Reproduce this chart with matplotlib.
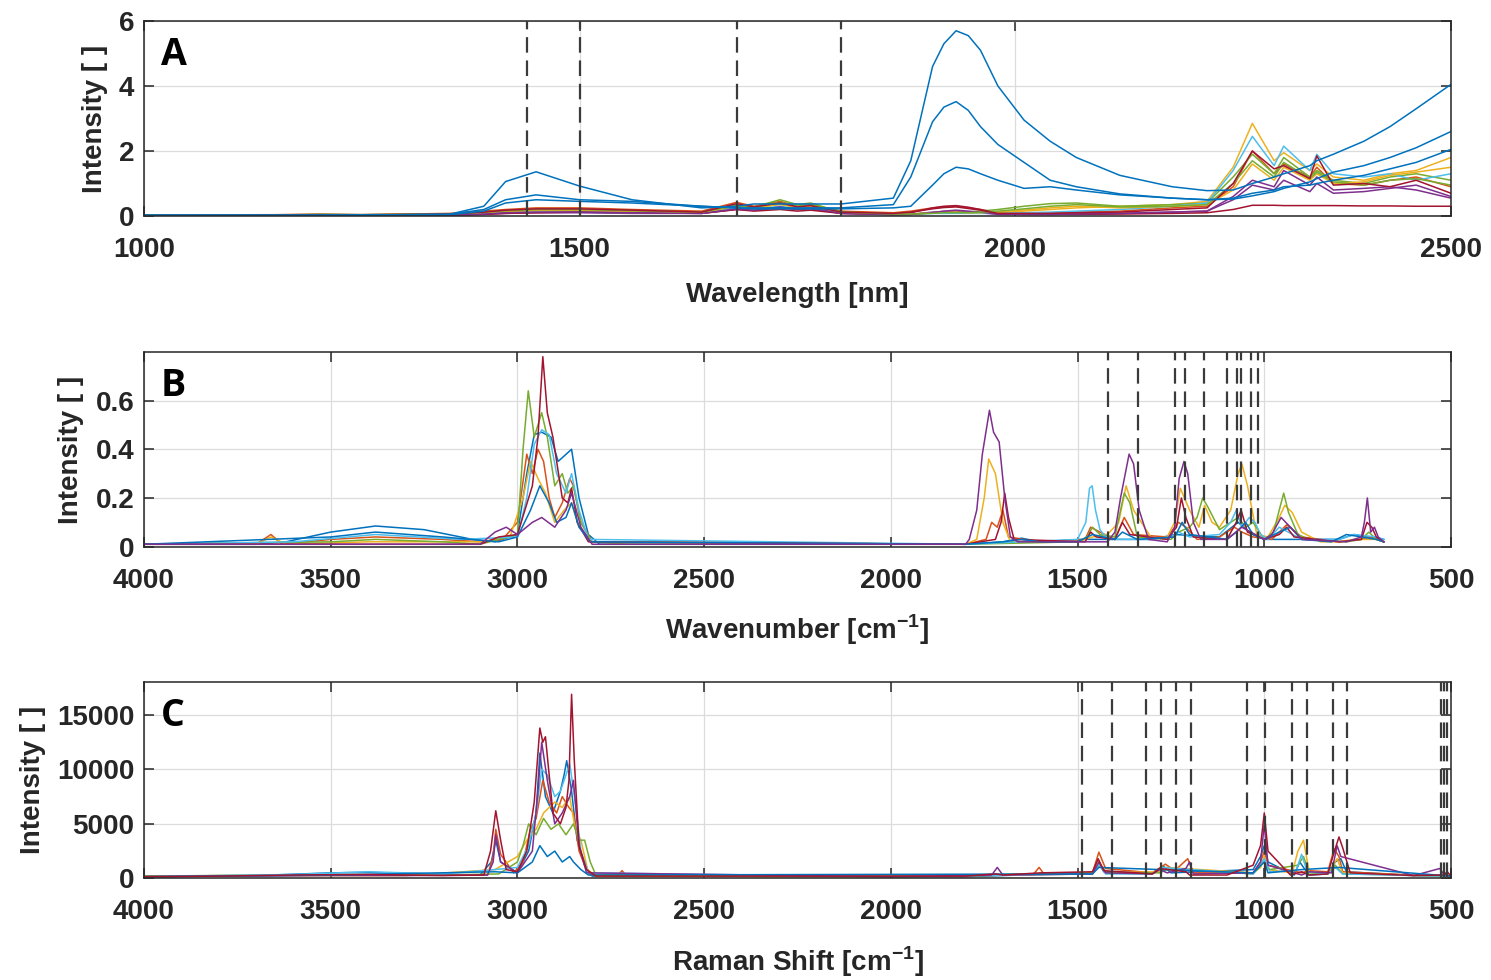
import matplotlib
matplotlib.use("Agg")
from matplotlib import pyplot as plt

plt.rcParams['font.family'] = ['Liberation Sans', 'DejaVu Sans']
plt.rcParams['font.weight'] = 'bold'
plt.rcParams['axes.labelweight'] = 'bold'
plt.rcParams['mathtext.fontset'] = 'custom'
plt.rcParams['mathtext.rm'] = 'Liberation Sans:bold'
plt.rcParams['mathtext.bf'] = 'Liberation Sans:bold'

# MATLAB default line colours
BLUE, ORANGE, YELLOW, PURPLE = '#0072BD', '#D95319', '#EDB120', '#7E2F8E'
GREEN, CYAN, RED = '#77AC30', '#4DBEEE', '#A2142F'

# ---------------- A: NIR (wavelength, nm) ----------------
A_WL = [1000, 1150, 1200, 1250, 1350, 1390, 1415, 1450, 1500, 1560, 1640, 1680, 1700, 1730,
        1750, 1765, 1800, 1860, 1880, 1905, 1918, 1932, 1946, 1960, 1980, 2010, 2040, 2070,
        2120, 2180, 2220, 2250, 2272, 2297, 2308, 2338, 2346, 2365, 2400, 2430, 2460, 2500]
A_BLUE1 = [0.02, 0.02, 0.03, 0.03, 0.05, 0.30, 1.06, 1.36, 0.92, 0.50, 0.25, 0.30, 0.37, 0.37,
           0.37, 0.37, 0.37, 0.55, 1.70, 4.60, 5.30, 5.70, 5.55, 5.10, 4.00, 2.95, 2.30, 1.80,
           1.25, 0.90, 0.78, 0.80, 1.00, 1.20, 1.30, 1.55, 1.70, 1.90, 2.30, 2.75, 3.30, 4.05]
A_BLUE2 = [0.02, 0.02, 0.02, 0.03, 0.05, 0.20, 0.50, 0.65, 0.50, 0.45, 0.30, 0.25, 0.25, 0.25,
           0.25, 0.25, 0.25, 0.35, 1.20, 2.90, 3.35, 3.52, 3.25, 2.75, 2.20, 1.65, 1.10, 0.90,
           0.68, 0.55, 0.50, 0.52, 0.62, 0.75, 0.85, 1.05, 1.15, 1.35, 1.55, 1.80, 2.10, 2.60]
A_BLUE3 = [0.02, 0.02, 0.02, 0.03, 0.04, 0.15, 0.40, 0.50, 0.45, 0.40, 0.30, 0.25, 0.22, 0.22,
           0.22, 0.22, 0.22, 0.25, 0.30, 0.95, 1.30, 1.50, 1.45, 1.30, 1.10, 0.85, 0.90, 0.80,
           0.65, 0.55, 0.50, 0.55, 0.70, 0.80, 0.90, 0.95, 1.00, 1.10, 1.25, 1.45, 1.65, 2.05]
A_ORANGE = [0.03, 0.04, 0.06, 0.04, 0.08, 0.15, 0.20, 0.25, 0.25, 0.20, 0.15, 0.42, 0.30, 0.45,
            0.30, 0.35, 0.15, 0.10, 0.15, 0.25, 0.28, 0.30, 0.25, 0.20, 0.10, 0.10, 0.10, 0.12,
            0.15, 0.25, 0.30, 0.90, 2.00, 1.30, 1.60, 1.20, 1.50, 1.00, 0.95, 1.10, 1.20, 0.90]
A_YELLOW = [0.02, 0.02, 0.03, 0.03, 0.05, 0.10, 0.12, 0.15, 0.15, 0.10, 0.10, 0.30, 0.25, 0.35,
            0.25, 0.30, 0.10, 0.05, 0.05, 0.10, 0.10, 0.10, 0.10, 0.10, 0.10, 0.15, 0.20, 0.25,
            0.30, 0.35, 0.45, 1.50, 2.85, 1.70, 1.95, 1.40, 1.60, 1.20, 1.10, 1.30, 1.40, 1.80]
A_PURPLE = [0.01, 0.01, 0.02, 0.02, 0.03, 0.05, 0.08, 0.10, 0.10, 0.08, 0.08, 0.20, 0.18, 0.25,
            0.20, 0.22, 0.08, 0.04, 0.05, 0.12, 0.14, 0.15, 0.12, 0.10, 0.05, 0.05, 0.05, 0.06,
            0.08, 0.12, 0.15, 0.60, 1.10, 0.90, 1.40, 0.95, 1.20, 0.80, 0.85, 0.90, 0.80, 0.55]
A_GREEN = [0.02, 0.03, 0.05, 0.04, 0.06, 0.10, 0.15, 0.18, 0.18, 0.15, 0.12, 0.35, 0.28, 0.50,
           0.35, 0.40, 0.12, 0.06, 0.06, 0.10, 0.10, 0.10, 0.12, 0.15, 0.20, 0.30, 0.38, 0.40,
           0.30, 0.35, 0.40, 1.20, 1.90, 1.30, 1.80, 1.20, 1.40, 1.10, 1.00, 1.20, 1.30, 1.10]
A_CYAN = [0.02, 0.02, 0.03, 0.03, 0.05, 0.08, 0.10, 0.12, 0.12, 0.10, 0.10, 0.25, 0.20, 0.30,
          0.22, 0.25, 0.10, 0.05, 0.05, 0.08, 0.08, 0.08, 0.08, 0.08, 0.08, 0.10, 0.12, 0.15,
          0.20, 0.30, 0.40, 1.40, 2.45, 1.55, 2.15, 1.40, 1.90, 1.30, 1.20, 1.30, 1.10, 1.30]
A_RED = [0.01, 0.01, 0.02, 0.02, 0.03, 0.05, 0.08, 0.10, 0.12, 0.10, 0.08, 0.20, 0.15, 0.20,
         0.15, 0.18, 0.08, 0.05, 0.10, 0.25, 0.30, 0.32, 0.27, 0.20, 0.08, 0.05, 0.05, 0.05,
         0.06, 0.08, 0.10, 0.20, 0.33, 0.33, 0.32, 0.32, 0.32, 0.32, 0.31, 0.31, 0.30, 0.30]
A_RED2 = [0.02, 0.03, 0.04, 0.04, 0.06, 0.12, 0.18, 0.22, 0.22, 0.18, 0.12, 0.38, 0.28, 0.40,
          0.28, 0.32, 0.12, 0.08, 0.12, 0.22, 0.26, 0.28, 0.23, 0.18, 0.08, 0.08, 0.08, 0.10,
          0.12, 0.20, 0.25, 1.00, 2.00, 1.45, 1.55, 1.15, 1.85, 0.95, 1.00, 0.90, 1.10, 0.70]
A_YELLOW2 = [0.02, 0.03, 0.04, 0.03, 0.05, 0.10, 0.14, 0.18, 0.18, 0.14, 0.10, 0.30, 0.22, 0.38,
             0.26, 0.30, 0.10, 0.06, 0.06, 0.10, 0.12, 0.12, 0.10, 0.10, 0.12, 0.18, 0.25, 0.30,
             0.25, 0.30, 0.35, 0.80, 1.60, 1.10, 1.50, 1.10, 1.30, 1.00, 1.05, 1.25, 1.35, 1.50]
A_PURPLE2 = [0.01, 0.01, 0.02, 0.02, 0.03, 0.06, 0.10, 0.12, 0.12, 0.10, 0.08, 0.22, 0.18, 0.28,
             0.20, 0.25, 0.08, 0.04, 0.05, 0.10, 0.15, 0.18, 0.15, 0.12, 0.06, 0.05, 0.05, 0.06,
             0.08, 0.12, 0.15, 0.50, 0.95, 0.80, 1.10, 0.75, 1.00, 0.70, 0.75, 0.85, 0.95, 0.60]
A_GREEN2 = [0.02, 0.03, 0.04, 0.04, 0.06, 0.12, 0.16, 0.20, 0.20, 0.16, 0.12, 0.32, 0.26, 0.42,
            0.30, 0.35, 0.12, 0.06, 0.06, 0.08, 0.10, 0.10, 0.10, 0.12, 0.15, 0.22, 0.30, 0.35,
            0.28, 0.30, 0.35, 1.00, 1.70, 1.20, 1.65, 1.15, 1.35, 1.05, 0.95, 1.10, 1.15, 0.95]
A_MARKS = [1440, 1500, 1680, 1800]

# ---------------- B: FTIR (wavenumber, cm-1) ----------------
B_BLUE_WN = [4000, 3700, 3620, 3500, 3380, 3250, 3120, 3060, 3000, 2975, 2955, 2935, 2910,
             2891, 2855, 2835, 2810, 2780, 1800, 1700, 1650, 1600, 1490, 1300, 1240, 1120,
             1070, 1040, 1000, 900, 800, 760, 720, 680]
B_BLUE_I = [0.01, 0.01, 0.02, 0.06, 0.085, 0.07, 0.03, 0.02, 0.05, 0.30, 0.46, 0.47, 0.45,
            0.35, 0.40, 0.20, 0.05, 0.01, 0.01, 0.02, 0.035, 0.02, 0.03, 0.03, 0.05, 0.04,
            0.10, 0.06, 0.03, 0.03, 0.03, 0.05, 0.04, 0.03]
B_ORANGE_WN = [4000, 3700, 3660, 3630, 3500, 3380, 3200, 3100, 3040, 3000, 2975, 2960, 2945,
               2930, 2915, 2900, 2880, 2860, 2850, 2830, 2800, 1800, 1745, 1730, 1715, 1700,
               1685, 1600, 1480, 1465, 1440, 1400, 1375, 1350, 1260, 1230, 1210, 1180, 1120,
               1080, 1060, 1030, 980, 960, 940, 900, 800, 740, 720, 700, 680]
B_ORANGE_I = [0.01, 0.01, 0.05, 0.01, 0.03, 0.04, 0.03, 0.02, 0.03, 0.10, 0.38, 0.30, 0.40,
              0.35, 0.20, 0.12, 0.18, 0.28, 0.25, 0.10, 0.02, 0.01, 0.03, 0.10, 0.08, 0.15,
              0.04, 0.02, 0.03, 0.08, 0.06, 0.03, 0.12, 0.05, 0.04, 0.10, 0.08, 0.03, 0.04,
              0.08, 0.06, 0.04, 0.03, 0.06, 0.09, 0.04, 0.02, 0.03, 0.04, 0.03, 0.02]
B_YELLOW_WN = [4000, 3700, 3660, 3620, 3400, 3100, 3020, 2985, 2965, 2945, 2925, 2900, 2875,
               2855, 2835, 2800, 1800, 1770, 1750, 1738, 1720, 1700, 1680, 1500, 1460, 1420,
               1390, 1370, 1350, 1300, 1260, 1240, 1225, 1200, 1175, 1160, 1140, 1120, 1090,
               1070, 1060, 1045, 1020, 990, 960, 945, 925, 900, 850, 800, 760, 700, 680]
B_YELLOW_I = [0.01, 0.01, 0.04, 0.01, 0.02, 0.02, 0.04, 0.20, 0.35, 0.28, 0.22, 0.10, 0.15,
              0.18, 0.08, 0.02, 0.01, 0.03, 0.20, 0.36, 0.30, 0.10, 0.02, 0.02, 0.04, 0.05,
              0.10, 0.25, 0.15, 0.03, 0.04, 0.10, 0.24, 0.15, 0.08, 0.17, 0.10, 0.08, 0.15,
              0.30, 0.34, 0.25, 0.05, 0.04, 0.12, 0.17, 0.14, 0.06, 0.02, 0.02, 0.03, 0.03, 0.02]
B_PURPLE_WN = [4000, 3100, 3060, 3030, 3000, 2960, 2935, 2900, 2870, 2855, 2830, 2800, 1800,
               1790, 1770, 1755, 1736, 1725, 1710, 1695, 1680, 1660, 1420, 1400, 1385, 1362,
               1350, 1335, 1310, 1260, 1240, 1228, 1215, 1205, 1190, 1170, 1100, 1060, 1000,
               980, 955, 930, 900, 780, 740, 732, 724, 715, 705, 695, 680]
B_PURPLE_I = [0.01, 0.01, 0.06, 0.08, 0.05, 0.10, 0.12, 0.08, 0.15, 0.22, 0.08, 0.01, 0.01,
              0.03, 0.15, 0.38, 0.56, 0.47, 0.43, 0.20, 0.04, 0.02, 0.02, 0.06, 0.20, 0.38,
              0.34, 0.15, 0.03, 0.02, 0.08, 0.28, 0.35, 0.30, 0.10, 0.03, 0.03, 0.08, 0.03,
              0.05, 0.12, 0.08, 0.03, 0.02, 0.04, 0.10, 0.20, 0.06, 0.08, 0.04, 0.02]
B_GREEN_WN = [4000, 3800, 3500, 3380, 3200, 3100, 3000, 2985, 2971, 2955, 2935, 2920, 2900,
              2880, 2865, 2850, 2830, 2800, 2700, 1800, 1500, 1475, 1460, 1440, 1400, 1385,
              1375, 1360, 1340, 1250, 1230, 1200, 1180, 1165, 1150, 1120, 1090, 1070, 1050,
              1030, 1000, 975, 960, 948, 935, 910, 880, 780, 740, 720, 700, 680]
B_GREEN_I = [0.01, 0.015, 0.02, 0.03, 0.02, 0.01, 0.05, 0.40, 0.64, 0.45, 0.55, 0.45, 0.25,
             0.30, 0.22, 0.25, 0.10, 0.02, 0.01, 0.01, 0.02, 0.04, 0.08, 0.05, 0.04, 0.15,
             0.22, 0.18, 0.04, 0.03, 0.06, 0.08, 0.12, 0.20, 0.16, 0.07, 0.10, 0.12, 0.08,
             0.10, 0.03, 0.06, 0.15, 0.22, 0.14, 0.05, 0.03, 0.02, 0.03, 0.06, 0.03, 0.02]
B_CYAN_WN = [4000, 3600, 3380, 3150, 3000, 2975, 2955, 2935, 2915, 2895, 2870, 2855, 2835,
             2810, 1800, 1500, 1478, 1468, 1461, 1452, 1440, 1420, 1300, 1250, 1230, 1200,
             1120, 1090, 1075, 1060, 1040, 1025, 1010, 990, 960, 900, 800, 760, 700, 680]
B_CYAN_I = [0.01, 0.02, 0.05, 0.03, 0.04, 0.20, 0.42, 0.48, 0.46, 0.30, 0.22, 0.30, 0.15,
            0.03, 0.01, 0.03, 0.10, 0.24, 0.25, 0.15, 0.07, 0.03, 0.03, 0.04, 0.06, 0.04,
            0.05, 0.10, 0.15, 0.08, 0.12, 0.10, 0.05, 0.03, 0.08, 0.03, 0.03, 0.05, 0.04, 0.03]
B_RED_WN = [4000, 3100, 3050, 3000, 2960, 2945, 2932, 2920, 2905, 2880, 2865, 2855, 2840,
            2810, 1800, 1720, 1705, 1695, 1685, 1670, 1480, 1465, 1450, 1400, 1380, 1360,
            1260, 1235, 1222, 1210, 1190, 1100, 1075, 1062, 1045, 1000, 960, 940, 920, 800,
            740, 725, 712, 700, 680]
B_RED_I = [0.01, 0.01, 0.04, 0.05, 0.25, 0.45, 0.78, 0.55, 0.45, 0.20, 0.18, 0.24, 0.10,
           0.02, 0.01, 0.03, 0.10, 0.22, 0.12, 0.03, 0.02, 0.06, 0.04, 0.03, 0.10, 0.05,
           0.03, 0.08, 0.20, 0.12, 0.04, 0.03, 0.10, 0.15, 0.06, 0.03, 0.05, 0.08, 0.04,
           0.02, 0.03, 0.10, 0.08, 0.04, 0.02]
B_BLUE2_WN = [4000, 3500, 3380, 3200, 3050, 3000, 2965, 2940, 2915, 2895, 2870, 2855, 2835,
              2805, 1800, 1700, 1650, 1600, 1500, 1460, 1400, 1380, 1340, 1240, 1220, 1200,
              1100, 1075, 1050, 1030, 1000, 960, 930, 900, 820, 780, 740, 700, 680]
B_BLUE2_I = [0.01, 0.04, 0.06, 0.04, 0.02, 0.04, 0.15, 0.25, 0.18, 0.10, 0.12, 0.18, 0.08,
             0.02, 0.01, 0.02, 0.03, 0.02, 0.02, 0.05, 0.03, 0.06, 0.03, 0.04, 0.10, 0.05,
             0.03, 0.06, 0.10, 0.05, 0.03, 0.06, 0.08, 0.03, 0.02, 0.05, 0.04, 0.03, 0.02]
B_MARKS = [1419, 1337, 1239, 1212, 1161, 1099, 1074, 1063, 1036, 1016]

# ---------------- C: Raman (shift, cm-1) ----------------
C_RED_WN = [4000, 3800, 3600, 3400, 3200, 3090, 3072, 3058, 3045, 3030, 3000, 2975, 2955,
            2940, 2932, 2925, 2905, 2885, 2870, 2862, 2855, 2848, 2835, 2815, 2790, 2600,
            2000, 1800, 1720, 1700, 1600, 1460, 1445, 1430, 1300, 1280, 1210, 1200, 1100,
            1030, 1010, 1000, 990, 930, 900, 880, 830, 812, 800, 790, 770, 600, 520, 510, 500]
C_RED_I = [150, 200, 300, 350, 250, 300, 2500, 6200, 3500, 800, 600, 2500, 7000, 13800,
           12500, 13000, 6000, 5000, 6500, 9000, 16900, 11000, 3000, 800, 200, 200, 200,
           200, 400, 300, 500, 600, 1800, 700, 400, 900, 600, 300, 300, 1200, 3000, 6000,
           2500, 300, 600, 300, 400, 2500, 3800, 2800, 500, 250, 300, 600, 200]
C_BLUE_WN = [4000, 3700, 3500, 3400, 3300, 3100, 3070, 3058, 3045, 3000, 2970, 2950, 2940,
             2925, 2905, 2885, 2875, 2868, 2855, 2840, 2820, 2800, 2600, 2000, 1800, 1460,
             1445, 1430, 1300, 1270, 1250, 1030, 1010, 1000, 990, 920, 905, 895, 880, 830,
             810, 795, 780, 600, 500]
C_BLUE_I = [150, 250, 500, 550, 450, 300, 1500, 3500, 1500, 500, 2500, 6000, 11500, 7500,
            6000, 8000, 9500, 10800, 8000, 3500, 1200, 200, 200, 150, 150, 500, 1500, 600,
            500, 1100, 500, 800, 2000, 3000, 1500, 300, 1500, 1000, 300, 400, 1500, 1800,
            600, 250, 200]
C_ORANGE_WN = [4000, 3500, 3300, 3080, 3065, 3058, 3045, 3010, 2985, 2965, 2950, 2932, 2915,
               2895, 2880, 2862, 2850, 2835, 2820, 2805, 2730, 2720, 2710, 2000, 1620, 1603,
               1590, 1460, 1443, 1425, 1300, 1265, 1240, 1205, 1190, 1030, 1010, 1000, 990,
               900, 880, 830, 813, 800, 790, 600, 500]
C_ORANGE_I = [200, 300, 300, 300, 2000, 4500, 2200, 500, 1500, 4500, 5500, 9000, 7000, 6000,
              7500, 6500, 6000, 2500, 1200, 300, 300, 700, 300, 200, 300, 1000, 400, 500,
              2400, 900, 500, 1300, 700, 1800, 500, 500, 1500, 2500, 1200, 500, 700, 600,
              2700, 2000, 600, 300, 250]
C_YELLOW_WN = [4000, 3600, 3300, 3060, 3000, 2975, 2950, 2930, 2900, 2880, 2860, 2845, 2830,
               2812, 2790, 2000, 1460, 1443, 1425, 1280, 1265, 1030, 1010, 1000, 990, 925,
               910, 895, 880, 830, 805, 790, 600, 500]
C_YELLOW_I = [150, 250, 250, 800, 2000, 3500, 4500, 6000, 7000, 6500, 7500, 4500, 3500, 800,
              200, 150, 400, 1600, 500, 600, 1000, 500, 1000, 2000, 800, 500, 2500, 3500,
              600, 400, 1800, 500, 250, 200]
C_PURPLE_WN = [4000, 3500, 3300, 3080, 3065, 3058, 3045, 3000, 2960, 2945, 2935, 2920, 2900,
               2880, 2860, 2850, 2835, 2815, 2000, 1730, 1715, 1700, 1460, 1443, 1425, 1300,
               1280, 1260, 1210, 1200, 1190, 1030, 1010, 1000, 990, 900, 880, 820, 805, 795,
               600, 530, 520, 500]
C_PURPLE_I = [150, 250, 250, 300, 1500, 4000, 1500, 500, 2500, 8000, 12500, 9000, 5000,
              6000, 7500, 9000, 3000, 500, 150, 300, 1000, 300, 400, 1500, 500, 400, 800, 500,
              900, 1500, 400, 500, 1500, 5000, 1200, 300, 600, 500, 3000, 2000, 250, 900,
              400, 200]
C_GREEN_WN = [4000, 3500, 3200, 3050, 3000, 2985, 2970, 2950, 2930, 2910, 2890, 2870, 2850,
              2835, 2820, 2805, 2790, 2000, 1460, 1440, 1420, 1280, 1255, 1030, 1000, 985,
              910, 895, 880, 830, 810, 790, 600, 500]
C_GREEN_I = [200, 350, 300, 400, 1500, 3000, 5000, 4000, 5500, 4500, 5000, 4000, 5000, 3500,
             3500, 1500, 300, 200, 500, 1200, 500, 500, 900, 400, 1500, 800, 1200, 2000, 500,
             400, 1200, 400, 300, 200]
C_CYAN_WN = [4000, 3600, 3400, 3200, 3060, 3000, 2970, 2950, 2935, 2920, 2900, 2885, 2870,
             2860, 2845, 2830, 2810, 2000, 1460, 1443, 1425, 1300, 1275, 1030, 1000, 985,
             915, 900, 885, 830, 810, 790, 600, 500]
C_CYAN_I = [150, 350, 600, 400, 800, 1000, 3000, 6000, 10000, 9500, 7500, 8000, 9500, 10500,
            7000, 2500, 500, 150, 400, 1300, 400, 400, 1000, 400, 1800, 600, 700, 2200, 600,
            400, 1000, 400, 250, 200]
C_BLUE2_WN = [4000, 3500, 3060, 3000, 2960, 2940, 2920, 2900, 2880, 2860, 2850, 2830, 2810,
              1460, 1443, 1030, 1000, 990, 900, 800, 500]
C_BLUE2_I = [150, 300, 600, 500, 1500, 3000, 2000, 2500, 1500, 2000, 1500, 800, 300, 400,
             1000, 500, 1500, 500, 800, 1000, 200]
C_MARKS = [1489, 1407, 1317, 1277, 1237, 1197, 1047, 998, 927, 886, 817, 778, 527, 519, 511]

TEXT = '#262626'
FIG_W, FIG_H = 1491, 980


def style_axes(ax, xlim, ylim, xticks, yticks, ylabels, xlabel, letter):
    ax.set_xlim(*xlim)
    ax.set_ylim(*ylim)
    ax.set_xticks(xticks)
    ax.set_yticks(yticks)
    ax.set_yticklabels(ylabels)
    ax.grid(True, color='#dcdcdc', lw=0.9)
    ax.set_axisbelow(True)
    ax.tick_params(direction='in', length=7, width=1.1, top=True, right=True,
                   labelsize=20, colors=TEXT)
    ax.tick_params(axis='x', pad=15)
    ax.tick_params(axis='y', pad=7)
    for sp in ax.spines.values():
        sp.set_color(TEXT)
        sp.set_linewidth(1.1)
    ax.set_xlabel(xlabel, fontsize=20, color=TEXT, fontweight='bold', labelpad=14)
    ax.set_ylabel('Intensity [ ]', fontsize=20, color=TEXT, fontweight='bold', labelpad=8)
    ax.text(0.013, 0.925, letter, transform=ax.transAxes, fontsize=27, va='top',
            family=['Open Sans', 'DejaVu Sans'], fontweight='bold', color='black')


def mark_lines(ax, marks):
    for m in marks:
        ax.axvline(m, color='#3a3a3a', lw=1.6, ls=(0, (7, 3.5)), zorder=5)


fig = plt.figure(figsize=(FIG_W / 100, FIG_H / 100), dpi=100)

# panel A
ax_a = fig.add_axes([144 / FIG_W, 1 - 216 / FIG_H, 1307 / FIG_W, 195 / FIG_H])
for ys, c in [(A_ORANGE, ORANGE), (A_YELLOW, YELLOW), (A_PURPLE, PURPLE), (A_GREEN, GREEN),
              (A_CYAN, CYAN), (A_RED, RED), (A_YELLOW2, YELLOW), (A_PURPLE2, PURPLE),
              (A_GREEN2, GREEN), (A_RED2, RED), (A_BLUE3, BLUE), (A_BLUE2, BLUE),
              (A_BLUE1, BLUE)]:
    ax_a.plot(A_WL, ys, color=c, lw=1.1)
mark_lines(ax_a, A_MARKS)
style_axes(ax_a, (1000, 2500), (0, 6), [1000, 1500, 2000, 2500], [0, 2, 4, 6],
           ['0', '2', '4', '6'], 'Wavelength [nm]', 'A')

# panel B
ax_b = fig.add_axes([144 / FIG_W, 1 - 546.7 / FIG_H, 1307 / FIG_W, 194.4 / FIG_H])
for xs, ys, c in [(B_BLUE_WN, B_BLUE_I, BLUE), (B_ORANGE_WN, B_ORANGE_I, ORANGE),
                  (B_YELLOW_WN, B_YELLOW_I, YELLOW), (B_GREEN_WN, B_GREEN_I, GREEN),
                  (B_CYAN_WN, B_CYAN_I, CYAN), (B_RED_WN, B_RED_I, RED),
                  (B_BLUE2_WN, B_BLUE2_I, BLUE), (B_PURPLE_WN, B_PURPLE_I, PURPLE)]:
    ax_b.plot(xs, ys, color=c, lw=1.1)
mark_lines(ax_b, B_MARKS)
style_axes(ax_b, (4000, 500), (0, 0.798), list(range(4000, 499, -500)), [0, 0.2, 0.4, 0.6],
           ['0', '0.2', '0.4', '0.6'], r'Wavenumber [cm$^{\mathbf{-1}}$]', 'B')

# panel C
ax_c = fig.add_axes([144 / FIG_W, 1 - 878.3 / FIG_H, 1307 / FIG_W, 196 / FIG_H])
for xs, ys, c in [(C_BLUE_WN, C_BLUE_I, BLUE), (C_ORANGE_WN, C_ORANGE_I, ORANGE),
                  (C_YELLOW_WN, C_YELLOW_I, YELLOW), (C_GREEN_WN, C_GREEN_I, GREEN),
                  (C_CYAN_WN, C_CYAN_I, CYAN), (C_PURPLE_WN, C_PURPLE_I, PURPLE),
                  (C_BLUE2_WN, C_BLUE2_I, BLUE), (C_RED_WN, C_RED_I, RED)]:
    ax_c.plot(xs, ys, color=c, lw=1.1)
mark_lines(ax_c, C_MARKS)
style_axes(ax_c, (4000, 500), (0, 18000), list(range(4000, 499, -500)),
           [0, 5000, 10000, 15000], ['0', '5000', '10000', '15000'],
           r'Raman Shift [cm$^{\mathbf{-1}}$]', 'C')

fig.savefig('out.png', dpi=100)
